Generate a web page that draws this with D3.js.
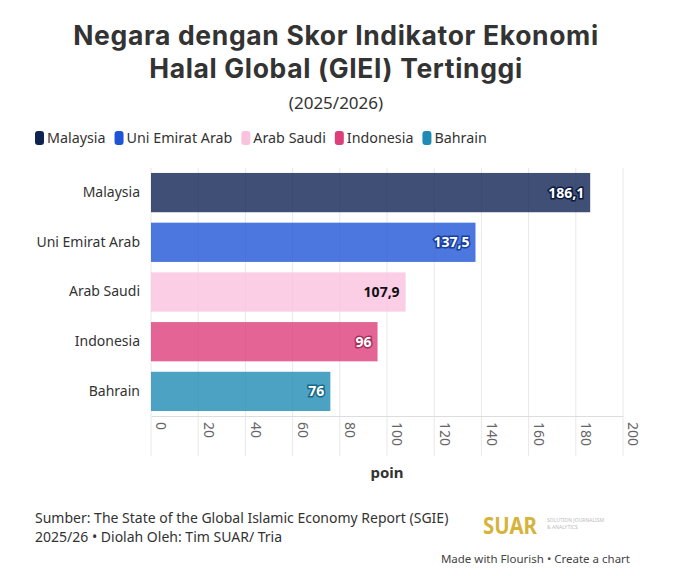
<!DOCTYPE html>
<html>
<head>
<meta charset="utf-8">
<script src="https://cdn.jsdelivr.net/npm/d3@7"></script>
<style>
  body { margin: 0; background: #fff; font-family: "Noto Sans", sans-serif; }
  #chart text { font-family: "Noto Sans", sans-serif; }
  #chart text.title { font-family: Inter, sans-serif; letter-spacing: 0.65px; }
</style>
</head>
<body>
<div id="chart"></div>
<script>
var countries = ["Malaysia", "Uni Emirat Arab", "Arab Saudi", "Indonesia", "Bahrain"];
var scores = [186.1, 137.5, 107.9, 96, 76];
var scoreLabels = ["186,1", "137,5", "107,9", "96", "76"];
var colors = ["#0f2352", "#1e55d6", "#fbc2de", "#dd3f7b", "#1f8bb4"];
var xTicks = [0, 20, 40, 60, 80, 100, 120, 140, 160, 180, 200];
var titleLines = ["Negara dengan Skor Indikator Ekonomi", "Halal Global (GIEI) Tertinggi"];

function init(){
    var W = 673, H = 576;
    var margin = {top: 168, left: 151, right: 50};
    var w = 623 - margin.left;
    var h = 248;

    var svg = d3.select("#chart").append("svg")
        .attr("width", W).attr("height", H);

    // title, two lines
    titleLines.forEach(function(l, i){
        svg.append("text").attr("class", "title")
            .attr("x", 336).attr("y", 45 + i * 32.5).attr("text-anchor", "middle")
            .attr("font-size", 26.5).attr("font-weight", 700).attr("fill", "#333")
            .text(l);
    });
    svg.append("text").attr("x", 336).attr("y", 109).attr("text-anchor", "middle")
        .attr("font-size", 17).attr("fill", "#333")
        .text("(2025/2026)");

    // legend
    var lx = 35;
    var legend = svg.append("g");
    countries.forEach(function(c, i){
        legend.append("rect").attr("x", lx).attr("y", 131).attr("width", 9).attr("height", 14)
            .attr("rx", 3).attr("fill", colors[i]);
        var t = legend.append("text").attr("x", lx + 12).attr("y", 143)
            .attr("font-size", 14.3).attr("fill", "#333").text(c);
        lx += 12 + t.node().getComputedTextLength() + 9;
    });

    var xScale = d3.scaleLinear().domain([0, 200]).range([0, w]);
    var yScale = d3.scaleBand().domain(countries).range([0, h]).paddingInner(0.21).paddingOuter(0.1);

    var g = svg.append("g").attr("transform", "translate(" + margin.left + "," + margin.top + ")");

    // grid
    g.selectAll(".grid").data(xTicks).enter().append("line")
        .attr("x1", function(d){ return xScale(d); })
        .attr("x2", function(d){ return xScale(d); })
        .attr("y1", 0).attr("y2", h + 40)
        .attr("stroke", "#e8e8e8").attr("stroke-width", 1);

    g.selectAll(".bar").data(countries).enter().append("rect")
        .attr("x", 0)
        .attr("y", function(d){ return yScale(d); })
        .attr("width", function(d, i){ return xScale(scores[i]); })
        .attr("height", yScale.bandwidth())
        .attr("fill", function(d, i){ return colors[i]; })
        .attr("fill-opacity", 0.8);

    // value labels
    g.selectAll(".val").data(countries).enter().append("text")
        .attr("x", function(d, i){ return xScale(scores[i]) - 6; })
        .attr("y", function(d){ return yScale(d) + yScale.bandwidth() / 2; })
        .attr("dy", "0.35em")
        .attr("text-anchor", "end")
        .attr("font-size", 14).attr("font-weight", 700)
        .attr("fill", function(d, i){ return i == 2 ? "#111" : "#fff"; })
        .attr("stroke", function(d, i){ return i == 2 ? "none" : d3.color(colors[i]).darker(0.8); })
        .attr("stroke-width", 3).attr("paint-order", "stroke")
        .text(function(d, i){ return scoreLabels[i]; });

    // y axis labels
    var yAxis = d3.axisLeft(yScale).tickSize(0).tickPadding(11);
    var ya = g.append("g").call(yAxis);
    ya.select(".domain").remove();
    ya.selectAll("text").attr("font-size", 14).attr("fill", "#333");

    // x axis
    var xAxis = d3.axisBottom(xScale).tickValues(xTicks).tickSize(0).tickPadding(0);
    var xa = g.append("g").attr("transform", "translate(0," + h + ")").call(xAxis);
    xa.select(".domain").attr("stroke", "#ddd");
    xa.selectAll("text")
        .attr("font-size", 14).attr("fill", "#666")
        .attr("text-anchor", "start")
        .attr("transform", "translate(0,6) rotate(90)")
        .attr("x", 0).attr("y", 0).attr("dy", "-0.35em").attr("dx", 0);

    svg.append("text").attr("x", margin.left + w / 2).attr("y", 478).attr("text-anchor", "middle")
        .attr("font-size", 15).attr("font-weight", 700).attr("fill", "#333").text("poin");

    // footer
    svg.append("text").attr("x", 35).attr("y", 523).attr("font-size", 14).attr("fill", "#333")
        .text("Sumber: The State of the Global Islamic Economy Report (SGIE)");
    svg.append("text").attr("x", 35).attr("y", 542).attr("font-size", 14).attr("fill", "#333")
        .text("2025/26 \u2022 Diolah Oleh: Tim SUAR/ Tria");
    svg.append("text").attr("x", 483).attr("y", 534).attr("font-size", 23).attr("font-weight", 700)
        .attr("fill", "#d6b43c").attr("textLength", 54).attr("lengthAdjust", "spacingAndGlyphs")
        .text("SUAR");
    svg.append("text").attr("x", 547).attr("y", 522).attr("font-size", 5).attr("fill", "#bbb")
        .text("SOLUTION JOURNALISM");
    svg.append("text").attr("x", 547).attr("y", 529).attr("font-size", 5).attr("fill", "#bbb")
        .text("& ANALYTICS");
    svg.append("text").attr("x", 630).attr("y", 563).attr("text-anchor", "end").attr("font-size", 11.5)
        .attr("fill", "#444").text("Made with Flourish \u2022 Create a chart");
}
window.onload = init;
</script>
</body>
</html>
